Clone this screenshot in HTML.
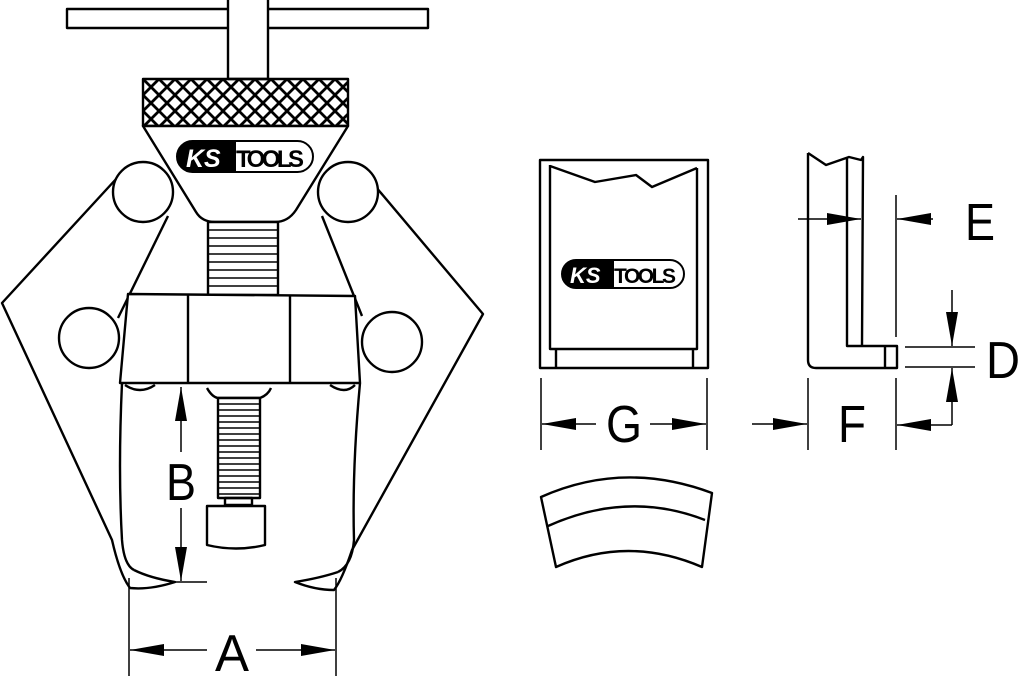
<!DOCTYPE html>
<html><head><meta charset="utf-8"><style>
html,body{margin:0;padding:0;background:#fff;}
svg{display:block;}
text{font-family:"Liberation Sans",sans-serif;}
</style></head><body>
<svg width="1023" height="683" viewBox="0 0 1023 683" xmlns="http://www.w3.org/2000/svg">
<defs>
<pattern id="kn" width="16" height="16" patternUnits="userSpaceOnUse" x="143" y="79">
<path d="M0,0 L16,16 M16,0 L0,16" stroke="#000" stroke-width="2.8"/>
</pattern>
<marker id="ar" viewBox="0 0 34 12" refX="34" refY="6" markerWidth="34" markerHeight="12" orient="auto" markerUnits="userSpaceOnUse">
<path d="M0,0 L34,6 L0,12 Z" fill="#000"/>
</marker>
</defs>
<g fill="none" stroke="#000" stroke-width="2.4" stroke-linejoin="round">
<rect x="67" y="9" width="361" height="19" fill="#fff"/>
<rect x="228" y="-2" width="40" height="81" fill="#fff"/>
<rect x="143" y="79" width="205" height="47" fill="url(#kn)"/>
<path d="M117,178 L2,303 L112,540 Q120,575 130,588 Q150,590 175,582 Q150,578 134,570"/>
<path d="M168,216 L118,318"/>
<path d="M370,180 L483,314 L352,550 Q342,580 334,590 Q315,590 295,582 Q320,578 338,572"/>
<path d="M322,216 L362,316"/>
<path d="M122,383 Q118,470 122,540 Q124,565 134,570"/>
<path d="M360,383 Q352,470 354,540 Q352,565 338,572"/>
<path d="M143,126 L348,126 L296,210 Q288,222 275,222 L215,222 Q202,222 196,212 Z" fill="#fff"/>
<path d="M208,222 L278,222 L278,295 L208,295 Z" fill="#fff"/>
<path d="M208,230 H278 M208,238 H278 M208,246 H278 M208,254 H278 M208,262 H278 M208,270 H278 M208,278 H278 M208,286 H278" stroke-width="1.6"/>
<path d="M128,294 L355,296 L360,383 L120,383 Z" fill="#fff"/>
<path d="M188,294 V383 M290,295 V383"/>
<path d="M125,385 Q140,395 155,385 M330,385 Q345,395 355,385"/>
<circle cx="143" cy="192" r="30" fill="#fff"/>
<circle cx="348" cy="192" r="30" fill="#fff"/>
<circle cx="89" cy="338" r="30" fill="#fff"/>
<circle cx="392" cy="342" r="30" fill="#fff"/>
<path d="M207,388 Q212,397 218,398 L260,398 Q268,395 271,388"/>
<rect x="218" y="398" width="42" height="100" fill="#fff"/>
<path d="M218,404 H260 M218,410 H260 M218,416 H260 M218,422 H260 M218,428 H260 M218,434 H260 M218,440 H260 M218,446 H260 M218,452 H260 M218,458 H260 M218,464 H260 M218,470 H260 M218,476 H260 M218,482 H260 M218,488 H260 M218,494 H260" stroke-width="1.5"/>
<rect x="225" y="498" width="27" height="7"/>
<path d="M207,506 H265 V545 Q236,552 207,545 Z" fill="#fff"/>
</g>
<rect x="177" y="141" width="136" height="31" rx="15.5" fill="#fff" stroke="#000" stroke-width="2"/>
<path d="M192,141 H236 V172 H192 A15.5,15.5 0 0 1 192,141 Z" fill="#000"/>
<text x="186" y="167" font-size="25" font-style="italic" font-weight="bold" fill="#fff">KS</text>
<text x="236" y="167" font-size="24" font-weight="bold" fill="#000" textLength="68">TOOLS</text>
<g stroke="#000" stroke-width="1.5" fill="none">
<line x1="181" y1="452" x2="181" y2="387" marker-end="url(#ar)"/>
<line x1="181" y1="508" x2="181" y2="581" marker-end="url(#ar)"/>
<line x1="175" y1="582" x2="207" y2="582"/>
<line x1="129" y1="578" x2="129" y2="676"/>
<line x1="336" y1="578" x2="336" y2="676"/>
<line x1="207" y1="650" x2="130" y2="650" marker-end="url(#ar)"/>
<line x1="256" y1="650" x2="335" y2="650" marker-end="url(#ar)"/>
</g>
<text x="181" y="500" font-size="52" text-anchor="middle" textLength="30" lengthAdjust="spacingAndGlyphs">B</text>
<text x="232" y="671" font-size="52" text-anchor="middle" textLength="34" lengthAdjust="spacingAndGlyphs">A</text>
<g fill="none" stroke="#000" stroke-width="2.4" stroke-linejoin="round">
<rect x="540" y="160" width="168" height="208"/>
<path d="M550,165 L550,349 L697,349 L697,168 M550,166 L595,182 L636,175 L652,187 L697,168 M556,349 V368 M693,349 V368"/>
<path d="M808,153 L808,360 Q808,368 816,368 L897,368 L897,346 L847,346 L847,158 M808,153 L826,165 L849,157 L861,160 L863,157 L862,346 M885,346 V368"/>
<path d="M541,497 Q624,460 712,493 L702,567 Q628,535 556,567 Z"/>
<path d="M548,526 Q628,490 705,520"/>
</g>
<rect x="562" y="260" width="122" height="28" rx="14" fill="#fff" stroke="#000" stroke-width="2"/>
<path d="M576,260 H614 V288 H576 A14,14 0 0 1 576,260 Z" fill="#000"/>
<text x="570" y="283" font-size="22" font-style="italic" font-weight="bold" fill="#fff">KS</text>
<text x="614" y="283" font-size="21" font-weight="bold" fill="#000" textLength="62">TOOLS</text>
<g stroke="#000" stroke-width="1.5" fill="none">
<line x1="541" y1="378" x2="541" y2="450"/>
<line x1="707" y1="378" x2="707" y2="450"/>
<line x1="596" y1="424" x2="542" y2="424" marker-end="url(#ar)"/>
<line x1="650" y1="424" x2="706" y2="424" marker-end="url(#ar)"/>
<line x1="808" y1="378" x2="808" y2="450"/>
<line x1="896" y1="378" x2="896" y2="450"/>
<line x1="752" y1="424" x2="807" y2="424" marker-end="url(#ar)"/>
<line x1="798" y1="219" x2="861" y2="219" marker-end="url(#ar)"/>
<line x1="896" y1="195" x2="896" y2="337"/>
<line x1="933" y1="219" x2="897" y2="219" marker-end="url(#ar)"/>
<line x1="905" y1="347" x2="975" y2="347"/>
<line x1="905" y1="367" x2="975" y2="367"/>
<line x1="952" y1="290" x2="952" y2="346" marker-end="url(#ar)"/>
<line x1="952" y1="425" x2="952" y2="368" marker-end="url(#ar)"/>
<line x1="952" y1="425" x2="897" y2="425" marker-end="url(#ar)"/>
</g>
<text x="624" y="442" font-size="52" text-anchor="middle" textLength="36" lengthAdjust="spacingAndGlyphs">G</text>
<text x="852" y="442" font-size="52" text-anchor="middle" textLength="28" lengthAdjust="spacingAndGlyphs">F</text>
<text x="980" y="240" font-size="52" text-anchor="middle" textLength="30" lengthAdjust="spacingAndGlyphs">E</text>
<text x="1003" y="378" font-size="52" text-anchor="middle" textLength="34" lengthAdjust="spacingAndGlyphs">D</text>
</svg>
</body></html>
